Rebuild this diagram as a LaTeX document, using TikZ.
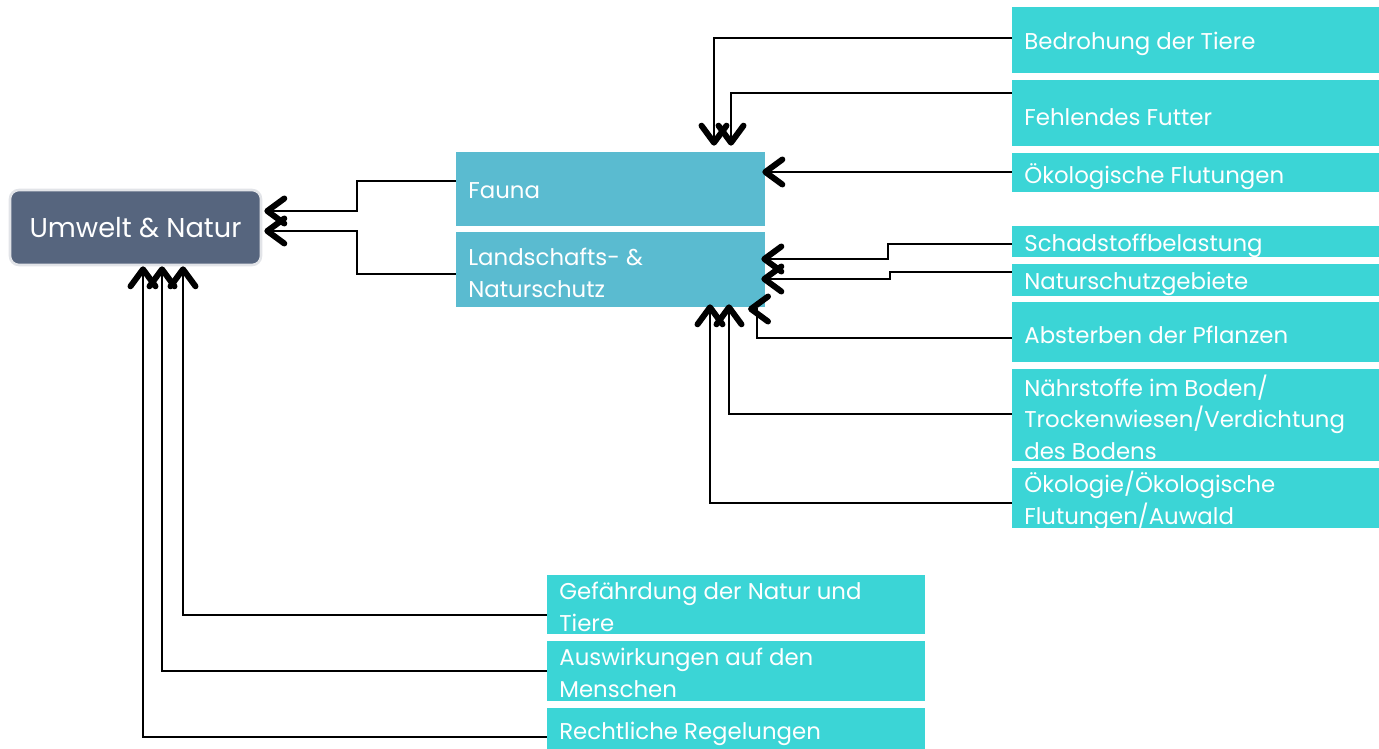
\documentclass[tikz,border=0pt]{standalone}
\usepackage{fontspec}
\setmainfont{Poppins}
\usetikzlibrary{arrows.meta,fit}
\definecolor{cyanbox}{HTML}{3BD5D6}
\definecolor{bluebox}{HTML}{5ABBD0}
\definecolor{slate}{HTML}{56657E}
\definecolor{rim}{HTML}{E2E4E8}
\begin{document}
\begin{tikzpicture}[x=0.02cm,y=-0.02cm,
  cbox/.style={fill=cyanbox,draw=none,inner sep=0pt,fit={#1}},
  bbox/.style={fill=bluebox,draw=none,inner sep=0pt,fit={#1}},
  txt/.style={text=white,anchor=west,align=left,inner sep=0pt,font=\fontsize{13}{18}\selectfont},
  arr/.style={-{Straight Barb[length=0.34cm,width=0.5cm,line width=3.4pt 0,round]},line width=1.2pt,black},
]
\useasboundingbox (0,0) rectangle (1379,749);
% main node
\node[fill=slate,draw=rim,line width=1.5pt,rounded corners=0.18cm,minimum width=251*0.02cm,minimum height=75*0.02cm,text=white,font=\fontsize{15.5}{19}\selectfont] (umw) at (135.5,227.5) {Umwelt \& Natur};
% middle boxes
\node[bbox={(456,152)(765,226)}] (fauna) {};
\node[bbox={(456,232)(765,307)}] (land) {};
\node[txt] (faunaT) at (468,191) {Fauna};
\node[txt] (landT) at (468,273) {Landschafts- \&\\Naturschutz};
% right boxes
\node[cbox={(1012,7)(1379,73)}] (bed) {};
\node[cbox={(1012,80)(1379,146)}] (fut) {};
\node[cbox={(1012,153)(1379,192)}] (flut) {};
\node[cbox={(1012,226)(1379,257)}] (schad) {};
\node[cbox={(1012,264)(1379,296)}] (nsg) {};
\node[cbox={(1012,302)(1379,362)}] (abs) {};
\node[cbox={(1012,369)(1379,461)}] (naehr) {};
\node[cbox={(1012,468)(1379,528)}] (oeko) {};
\node[txt] (bedT) at (1024,44) {Bedrohung der Tiere};
\node[txt] (futT) at (1024,117) {Fehlendes Futter};
\node[txt] (flutT) at (1024,177) {Ökologische Flutungen};
\node[txt] (schadT) at (1024,246) {Schadstoffbelastung};
\node[txt] (nsgT) at (1024,284) {Naturschutzgebiete};
\node[txt] (absT) at (1024,335) {Absterben der Pflanzen};
\node[txt] (naehrT) at (1024,417) {Nährstoffe im Boden/\\Trockenwiesen/Verdichtung\\des Bodens};
\node[txt] (oekoT) at (1024,501) {Ökologie/Ökologische\\Flutungen/Auwald};
% bottom boxes
\node[cbox={(547,575)(925,634)}] (gef) {};
\node[cbox={(547,641)(925,701)}] (ausw) {};
\node[cbox={(547,708)(925,749)}] (recht) {};
\node[txt] (gefT) at (559,607) {Gefährdung der Natur und\\Tiere};
\node[txt] (auswT) at (559,673) {Auswirkungen auf den\\Menschen};
\node[txt] (rechtT) at (559,734) {Rechtliche Regelungen};
% connectors into Umwelt & Natur
\draw[arr] (fauna.west |- 0,181) -| (357,211) -- ([xshift=0.04cm]umw.east |- 0,211);
\draw[arr] (land.west |- 0,274) -| (357,231) -- ([xshift=0.04cm]umw.east |- 0,231);
\draw[arr] (gef.west |- 0,615) -| (umw.south -| 183,0);
\draw[arr] (ausw.west |- 0,671) -| (umw.south -| 162,0);
\draw[arr] (recht.west |- 0,737) -| (umw.south -| 143,0);
% connectors into Fauna
\draw[arr,shorten >=0.12cm] (bed.west |- 0,38) -| (fauna.north -| 714,0);
\draw[arr,shorten >=0.12cm] (fut.west |- 0,93) -| (fauna.north -| 731,0);
\draw[arr,shorten >=-0.06cm] (flut.west |- 0,172) -- (fauna.east |- 0,172);
% connectors into Landschafts- & Naturschutz
\draw[arr,shorten >=-0.08cm] (schad.west |- 0,244) -| (888,259) -- (land.east |- 0,259);
\draw[arr,shorten >=-0.08cm] (nsg.west |- 0,272) -| (890,279) -- (land.east |- 0,279);
\draw[arr] (abs.west |- 0,338) -| (757,309) -- (748,309);
\draw[arr,shorten >=-0.06cm] (naehr.west |- 0,414) -| (land.south -| 729,0);
\draw[arr,shorten >=-0.06cm] (oeko.west |- 0,503) -| (land.south -| 710,0);
\end{tikzpicture}
\end{document}
